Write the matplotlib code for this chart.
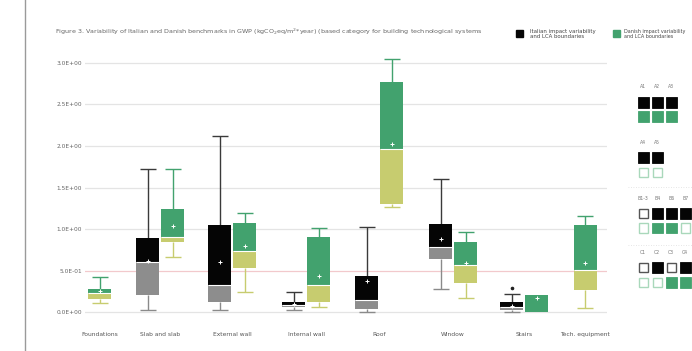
import matplotlib
matplotlib.use("Agg")
import matplotlib.pyplot as plt
from matplotlib.patches import Rectangle

# ---- data -------------------------------------------------------------
categories = ["Foundations", "Slab and slab", "External wall", "Internal wall",
              "Roof", "Window", "Stairs", "Tech. equipment"]
ytick_values = [0.0, 0.5, 1.0, 1.5, 2.0, 2.5, 3.0]

# Italian benchmarks (kgCO2eq/m2 year); None = not available
it_min  = [None, 0.03, 0.03, 0.03, 0.01, 0.28, 0.01, None]
it_q1   = [None, 0.21, 0.13, 0.06, 0.04, 0.64, 0.03, None]
it_med  = [None, 0.60, 0.33, 0.09, 0.15, 0.79, 0.07, None]
it_q3   = [None, 0.89, 1.05, 0.12, 0.44, 1.06, 0.12, None]
it_max  = [None, 1.72, 2.12, 0.25, 1.02, 1.60, 0.22, None]
it_mean = [None, 0.62, 0.60, 0.10, 0.38, 0.88, 0.08, None]
it_outliers = [[], [], [], [], [], [], [0.29], []]

# Danish benchmarks
dk_min  = [0.11, 0.66, 0.24, 0.06, 1.26, 0.17, 0.01, 0.05]
dk_q1   = [0.16, 0.84, 0.53, 0.13, 1.30, 0.35, 0.01, 0.27]
dk_med  = [0.23, 0.91, 0.74, 0.33, 1.96, 0.57, 0.01, 0.51]
dk_q3   = [0.28, 1.24, 1.07, 0.90, 2.77, 0.85, 0.21, 1.05]
dk_max  = [0.42, 1.72, 1.19, 1.01, 3.04, 0.97, 0.21, 1.16]
dk_mean = [0.26, 1.04, 0.80, 0.44, 2.02, 0.59, 0.17, 0.59]

# LCA module boundaries
module_groups = [["A1", "A2", "A3"], ["A4", "A5"],
                 ["B1-3", "B4", "B6", "B7"], ["C1", "C2", "C3", "C4"]]
it_modules = [[1, 1, 1], [1, 1], [0, 1, 1, 1], [0, 1, 0, 1]]
dk_modules = [[1, 1, 1], [0, 0], [0, 1, 1, 0], [0, 0, 1, 1]]

title = ("Figure 3. Variability of Italian and Danish benchmarks in GWP "
         "(kgCO$_2$eq/m$^2$*year) (based category for building technological systems")

# ---- style ------------------------------------------------------------
BLACK = "#050505"
GREY = "#8d8d8d"
GREEN = "#42a26e"
YELLOW = "#c7cc6f"
LIGHT_GREEN = "#a9d8bb"
TXT = "#666666"

W, H = 692, 351
fig = plt.figure(figsize=(W / 100, H / 100), dpi=100)
fig.patch.set_facecolor("white")

# main plotting area, x in layout units
x_left, x_right = 85, 607
y_top_px, y_bot_px = 54.4, 316.5
ax = fig.add_axes([x_left / W, (H - y_bot_px) / H,
                   (x_right - x_left) / W, (y_bot_px - y_top_px) / H])
ax.set_xlim(x_left, x_right)
ax.set_ylim(-0.05, 3.1)
for s in ax.spines.values():
    s.set_visible(False)

# gridlines
for v in ytick_values:
    c = "#f2c9cc" if v == 0.5 else "#e4e4e4"
    ax.axhline(v, color=c, lw=0.9, zorder=0)

ax.set_yticks(ytick_values)
ax.set_yticklabels([f"{v:.1E}" for v in ytick_values], fontsize=4.2, color=TXT)
ax.tick_params(axis="y", length=0, pad=2.2)

positions = [99.5, 160, 232, 306, 379, 453, 524, 585]
ax.set_xticks(positions)
ax.set_xticklabels(categories, fontsize=4.3, color="#555555")
ax.tick_params(axis="x", length=0, pad=11)

box_w = 23
cap_w = 16


def draw_box(x, lo, q1, med, q3, hi, mean, top_c, bot_c, wtop_c, wbot_c):
    # whiskers
    if hi > q3:
        ax.vlines(x, q3, hi, color=wtop_c, lw=1.0, zorder=2)
        ax.hlines(hi, x - cap_w / 2, x + cap_w / 2, color=wtop_c, lw=1.0, zorder=2)
    if lo < q1:
        ax.vlines(x, lo, q1, color=wbot_c, lw=1.0, zorder=2)
        ax.hlines(lo, x - cap_w / 2, x + cap_w / 2, color=wbot_c, lw=1.0, zorder=2)
    # two-tone box
    ax.bar(x, q3 - med, bottom=med, width=box_w, color=top_c, zorder=3, lw=0)
    if med > q1:
        ax.bar(x, med - q1, bottom=q1, width=box_w, color=bot_c, zorder=3, lw=0)
    if med - q1 > 0 and q3 - med > 0:
        ax.hlines(med, x - box_w / 2, x + box_w / 2, color="white", lw=0.8, zorder=4)
    ax.plot(x, mean, marker="+", color="white", ms=3, mew=0.7, zorder=5)


for i, pos in enumerate(positions):
    has_it = it_q1[i] is not None
    has_dk = dk_q1[i] is not None
    if has_it and has_dk:
        x_it, x_dk = pos - 12.5, pos + 12.5
    else:
        x_it = x_dk = pos
    if has_it:
        draw_box(x_it, it_min[i], it_q1[i], it_med[i], it_q3[i], it_max[i],
                 it_mean[i], BLACK, GREY, "#3a3a3a", "#8a8a8a")
        for o in it_outliers[i]:
            ax.plot(x_it, o, marker="o", color="#222222", ms=1.6, zorder=5)
    if has_dk:
        draw_box(x_dk, dk_min[i], dk_q1[i], dk_med[i], dk_q3[i], dk_max[i],
                 dk_mean[i], GREEN, YELLOW, GREEN, YELLOW)

# ---- page decorations (pixel coordinates) -----------------------------
ov = fig.add_axes([0, 0, 1, 1], facecolor="none")
ov.set_xlim(0, W)
ov.set_ylim(H, 0)
ov.axis("off")

ov.plot([25, 25], [0, H], color="#9a9a9a", lw=1.0)
ov.text(55, 32, title, fontsize=4.6, color=TXT, va="center", ha="left")

# legend
ov.add_patch(Rectangle((516, 30), 7, 7, color=BLACK))
ov.text(530, 34, "Italian impact variability\nand LCA boundaries",
        fontsize=3.9, color="#444444", va="center", ha="left", linespacing=1.2)
ov.add_patch(Rectangle((613, 30), 7, 7, color=GREEN))
ov.text(624, 34, "Danish impact variability\nand LCA boundaries",
        fontsize=3.55, color="#444444", va="center", ha="left", linespacing=1.2)

# LCA module boundary squares
sq = 10.5
step = 14.0
x0 = 638
label_y = [87, 143, 198, 253]
row1_y = [97, 152, 208, 262]
row2_y = [111, 167, 222.5, 277]
for g, mods in enumerate(module_groups):
    for j, m in enumerate(mods):
        xs = x0 + j * step
        ov.text(xs + sq / 2, label_y[g], m, fontsize=3.3, color="#777777",
                ha="center", va="center")
        if it_modules[g][j]:
            ov.add_patch(Rectangle((xs, row1_y[g]), sq, sq, facecolor=BLACK,
                                   edgecolor=BLACK, lw=0.6))
        else:
            ov.add_patch(Rectangle((xs + 0.5, row1_y[g] + 0.5), sq - 1, sq - 1,
                                   facecolor="white", edgecolor="#555555", lw=1.0))
        if dk_modules[g][j]:
            ov.add_patch(Rectangle((xs, row2_y[g]), sq, sq, facecolor=GREEN,
                                   edgecolor=GREEN, lw=0.6))
        else:
            ov.add_patch(Rectangle((xs + 0.5, row2_y[g] + 0.5), sq - 1, sq - 1,
                                   facecolor="white", edgecolor=LIGHT_GREEN, lw=1.0))

# faint separators between module groups
for yy in [187, 245]:
    ov.plot([628, W], [yy, yy], color="#dddddd", lw=0.6, ls=(0, (1, 2)))

fig.savefig("out.png", dpi=100, facecolor="white")
